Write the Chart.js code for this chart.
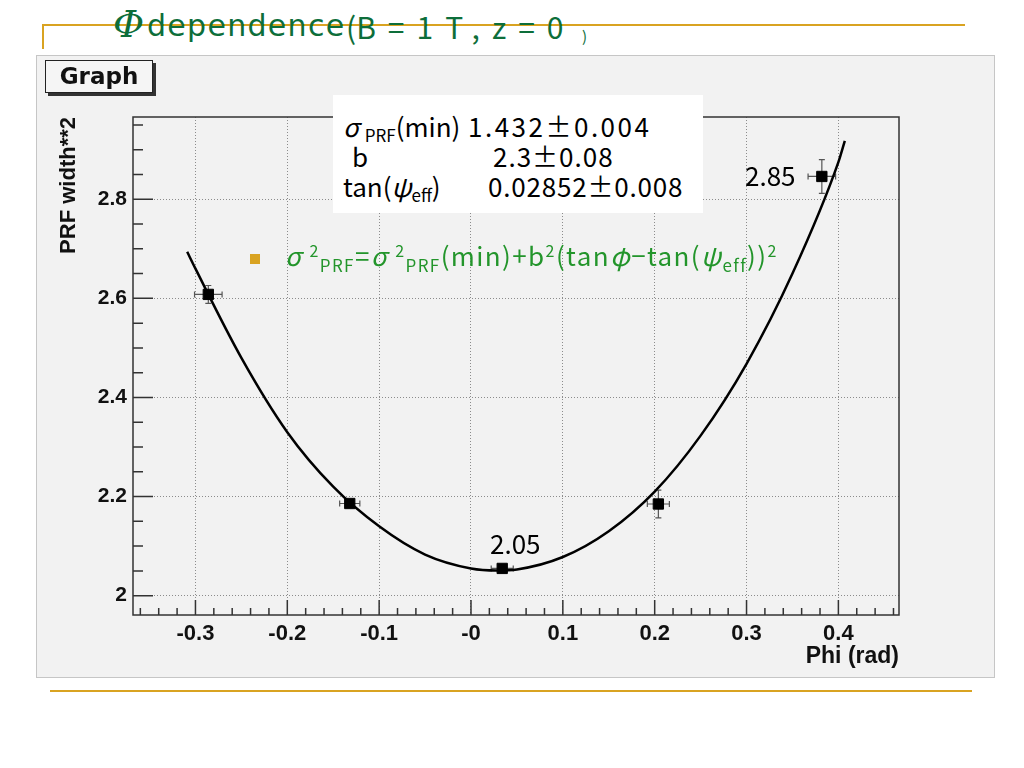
<!DOCTYPE html>
<html>
<head>
<meta charset="utf-8">
<script src="https://cdn.jsdelivr.net/npm/chart.js@4.4.0/dist/chart.umd.min.js"></script>
<style>
body { margin:0; width:1024px; height:768px; background:#fff; position:relative; overflow:hidden; font-family:'Noto Sans CJK JP', sans-serif; }
.abs { position:absolute; white-space:nowrap; }
.deco { position:absolute; background:#d9a321; }
#panel { left:36px; top:55px; width:959px; height:623px; background:#f2f2f2; border:1px solid #c6c6c6; box-sizing:border-box; }
#chartBox { position:absolute; left:37px; top:55px; width:958px; height:622px; }
#graphTitle { left:45px; top:60px; width:106px; height:31px; background:#f5f5f5; border:1px solid #222; box-shadow:3px 3px 0 #333;
  font:bold 23px 'DejaVu Sans', sans-serif; line-height:31px; text-align:center; color:#111; }
.title { color:#0d6e3a; line-height:48px; top:2px; }
.stat { font-size:26px; line-height:30px; color:#000; }
.stat sub { font-size:17px; vertical-align:-5px; }
.formula sub { font-size:17px; vertical-align:-6px; }
.formula sup { font-size:16px; vertical-align:9px; }
.formula { font-size:26px; color:#23952b; line-height:30px; letter-spacing:1.4px; }
.lbl { font-size:26px; line-height:30px; color:#000; }
</style>
</head>
<body>
<div class="deco" style="left:42px;top:24px;width:923px;height:2px;"></div>
<div class="deco" style="left:42px;top:24px;width:2px;height:25px;"></div>
<div class="deco" style="left:50px;top:690px;width:922px;height:2px;"></div>
<div class="abs title" style="left:113px;font-size:38px;font-style:italic;font-family:'DejaVu Serif',serif;top:0px;">Φ</div>
<div class="abs title" style="left:147px;font-size:30px;letter-spacing:1.3px;font-family:'DejaVu Sans',sans-serif;">dependence</div>
<div class="abs title" style="left:346px;font-size:30px;">(<span style="letter-spacing:12px;">B=1T,z=</span>0</div>
<div class="abs title" style="left:582px;font-size:15px;top:12px;">)</div>

<div class="abs" id="panel"></div>
<div id="chartBox"><canvas id="prfChart"></canvas></div>
<div class="abs" id="graphTitle">Graph</div>

<div class="abs" style="left:333px;top:95px;width:370px;height:118px;background:#fff;"></div>
<div class="abs stat" style="left:343px;top:111px;"><i>σ</i>&nbsp;<sub>PRF</sub>(min)</div>
<div class="abs stat" style="left:468px;top:111px;letter-spacing:2.5px;">1.432±0.004</div>
<div class="abs stat" style="left:352px;top:141px;">b</div>
<div class="abs stat" style="left:493px;top:141px;letter-spacing:1px;">2.3±0.08</div>
<div class="abs stat" style="left:343px;top:171px;">tan(<i>ψ</i><sub>eff</sub>)</div>
<div class="abs stat" style="left:488px;top:171px;letter-spacing:0.8px;">0.02852±0.008</div>

<div class="abs" style="left:250px;top:254px;width:10px;height:10px;background:#d9a321;"></div>
<div class="abs formula" style="left:285px;top:235px;"><i>σ</i>&nbsp;<sup>2</sup><sub>PRF</sub>=<i>σ</i>&nbsp;<sup>2</sup><sub>PRF</sub>(min)+b<sup>2</sup>(tan<i>φ</i>−tan(<i>ψ</i><sub>eff</sub>))<sup>2</sup></div>

<div class="abs lbl" style="left:490px;top:528px;">2.05</div>
<div class="abs lbl" style="left:745px;top:160px;">2.85</div>

<script>
// axis ticks
const xTickValues = [-0.3, -0.2, -0.1, 0, 0.1, 0.2, 0.3, 0.4];
const xTickLabels = ['-0.3', '-0.2', '-0.1', '-0', '0.1', '0.2', '0.3', '0.4'];
const yTickValues = [2.0, 2.2, 2.4, 2.6, 2.8];
const yTickLabels = ['2', '2.2', '2.4', '2.6', '2.8'];

// measured points with errors
const phi = [-0.286, -0.132, 0.034, 0.204, 0.382];
const prfWidth2 = [2.608, 2.186, 2.055, 2.185, 2.846];
const phiErr = [0.015, 0.011, 0.012, 0.012, 0.015];
const prfErr = [0.018, 0.008, 0.006, 0.028, 0.034];

// fit curve
const fitPhi = [-0.309, -0.30, -0.25, -0.20, -0.15, -0.10, -0.05, 0, 0.028, 0.05, 0.10, 0.15, 0.20, 0.25, 0.30, 0.35, 0.40, 0.407];
const fitVal = [2.694, 2.66, 2.48, 2.33, 2.22, 2.14, 2.083, 2.055, 2.051, 2.053, 2.078, 2.13, 2.21, 2.323, 2.468, 2.65, 2.875, 2.918];

Chart.defaults.font.family = "'Liberation Sans', Arial, sans-serif";
Chart.defaults.color = '#111';

const errorBars = {
    id: 'errorBars',
    beforeDatasetsDraw(chart) {
        const {ctx, scales: {x, y}} = chart;
        ctx.save();
        ctx.strokeStyle = '#555';
        ctx.lineWidth = 1.2;
        phi.forEach((p, i) => {
            const px = x.getPixelForValue(p);
            const py = y.getPixelForValue(prfWidth2[i]);
            const x0 = x.getPixelForValue(p - phiErr[i]);
            const x1 = x.getPixelForValue(p + phiErr[i]);
            const y0 = y.getPixelForValue(prfWidth2[i] - prfErr[i]);
            const y1 = y.getPixelForValue(prfWidth2[i] + prfErr[i]);
            ctx.beginPath();
            ctx.moveTo(x0, py); ctx.lineTo(x1, py);
            ctx.moveTo(px, y0); ctx.lineTo(px, y1);
            ctx.moveTo(x0, py - 3); ctx.lineTo(x0, py + 3);
            ctx.moveTo(x1, py - 3); ctx.lineTo(x1, py + 3);
            ctx.moveTo(px - 3, y0); ctx.lineTo(px + 3, y0);
            ctx.moveTo(px - 3, y1); ctx.lineTo(px + 3, y1);
            ctx.stroke();
        });
        ctx.restore();
    }
};

// ROOT style frame with ticks pointing inwards
const rootFrame = {
    id: 'rootFrame',
    afterDatasetsDraw(chart) {
        const {ctx, chartArea: a, scales: {x, y}} = chart;
        ctx.save();
        ctx.strokeStyle = '#333';
        ctx.lineWidth = 1.5;
        ctx.strokeRect(a.left, a.top, a.right - a.left, a.bottom - a.top);
        ctx.beginPath();
        for (let k = -18; k <= 23; k++) {
            const px = x.getPixelForValue(k * 0.02);
            if (px < a.left || px > a.right) continue;
            const len = k % 5 === 0 ? 15 : 7;
            ctx.moveTo(px, a.bottom); ctx.lineTo(px, a.bottom - len);
        }
        for (let k = 40; k <= 59; k++) {
            const py = y.getPixelForValue(k * 0.05);
            if (py < a.top || py > a.bottom) continue;
            const len = k % 4 === 0 ? 20 : 10;
            ctx.moveTo(a.left, py); ctx.lineTo(a.left + len, py);
        }
        ctx.stroke();
        ctx.restore();
    }
};

function initializePrfChart() {
    const ctx = document.getElementById('prfChart').getContext('2d');
    new Chart(ctx, {
        type: 'scatter',
        data: {
            datasets: [{
                label: 'fit',
                data: fitPhi.map((p, i) => ({x: p, y: fitVal[i]})),
                showLine: true,
                borderColor: '#000',
                borderWidth: 2.5,
                pointRadius: 0,
                cubicInterpolationMode: 'monotone',
                order: 2
            }, {
                label: 'Graph',
                data: phi.map((p, i) => ({x: p, y: prfWidth2[i]})),
                pointStyle: 'rect',
                pointRadius: 7.3,
                backgroundColor: '#000',
                borderColor: '#000',
                order: 1
            }]
        },
        options: {
            responsive: true,
            maintainAspectRatio: false,
            animation: false,
            events: [],
            layout: { padding: { top: 62, right: 96, left: 0, bottom: 0 } },
            plugins: {
                legend: { display: false },
                tooltip: { enabled: false }
            },
            scales: {
                x: {
                    type: 'linear',
                    min: -0.368,
                    max: 0.466,
                    afterBuildTicks: s => { s.ticks = xTickValues.map(v => ({value: v})); },
                    afterFit: s => { s.height = 62; },
                    grid: { color: '#8c8c8c', lineWidth: 1, drawTicks: false },
                    border: { display: false, dash: [1, 2] },
                    ticks: {
                        padding: 6,
                        font: { size: 22, weight: 'bold' },
                        callback: (v, i) => xTickLabels[i]
                    },
                    title: {
                        display: true,
                        text: 'Phi (rad)',
                        align: 'end',
                        font: { size: 23, weight: 'bold' },
                        padding: { top: 0, bottom: 7 }
                    }
                },
                y: {
                    type: 'linear',
                    min: 1.961,
                    max: 2.966,
                    afterBuildTicks: s => { s.ticks = yTickValues.map(v => ({value: v})); },
                    afterFit: s => { s.width = 96; },
                    grid: { color: '#8c8c8c', lineWidth: 1, drawTicks: false },
                    border: { display: false, dash: [1, 2] },
                    ticks: {
                        padding: 6,
                        font: { size: 21, weight: 'bold' },
                        callback: (v, i) => yTickLabels[i]
                    },
                    title: {
                        display: true,
                        text: 'PRF width**2',
                        align: 'end',
                        font: { size: 22, weight: 'bold' },
                        padding: { top: 19, bottom: 0 }
                    }
                }
            }
        },
        plugins: [errorBars, rootFrame]
    });
}

document.addEventListener('DOMContentLoaded', initializePrfChart);
</script>
</body>
</html>
